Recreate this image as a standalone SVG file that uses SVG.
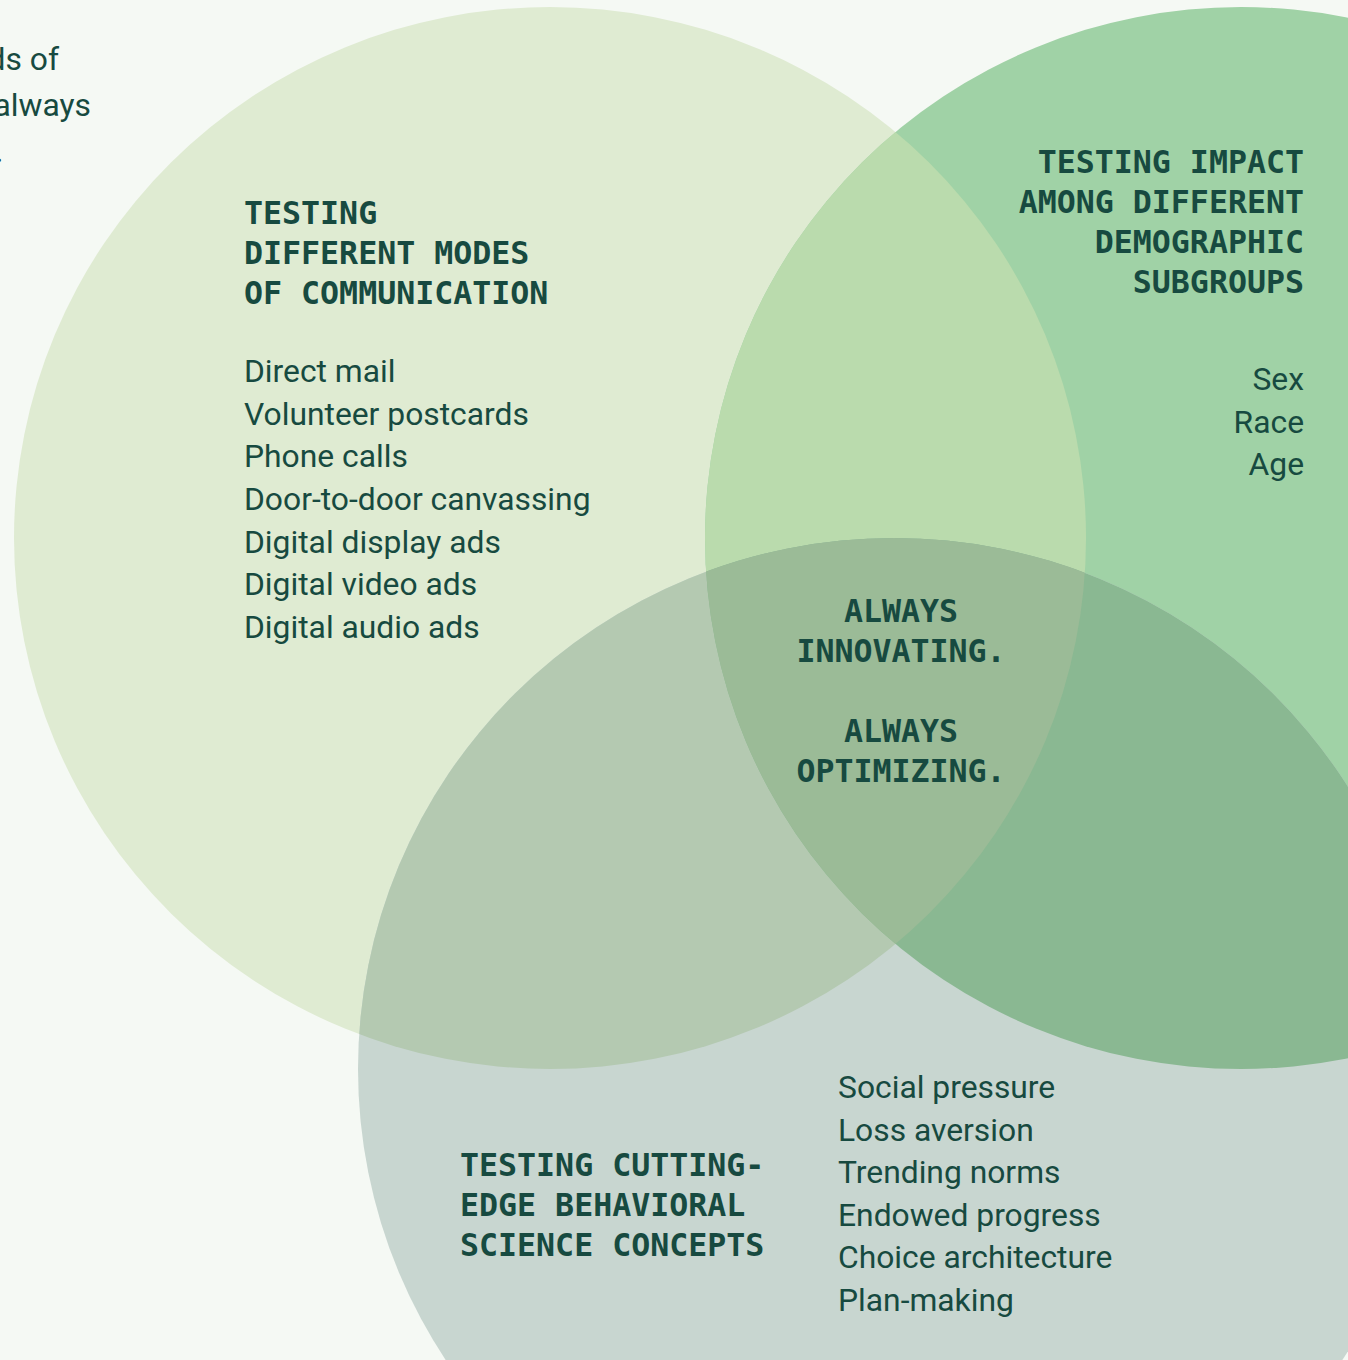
<svg xmlns="http://www.w3.org/2000/svg" width="1348" height="1360" viewBox="0 0 1348 1360">
<style>
.h{font-family:"DejaVu Sans Mono","Liberation Mono",monospace;font-weight:bold;font-size:31.6px;fill:#174a40}
.b{font-family:Roboto,"Liberation Sans",sans-serif;font-size:31.8px;fill:#174a40}
</style>
<defs>
<clipPath id="k1"><ellipse cx="550" cy="538" rx="536" ry="531"/></clipPath>
<clipPath id="k2"><ellipse cx="1241" cy="538" rx="536" ry="531"/></clipPath>
</defs>
<rect width="1348" height="1360" fill="#f5f9f4"/>
<g id="intro-text" class="b">
<text x="59" y="70" text-anchor="end">ds of</text>
<text x="91" y="116" text-anchor="end">always</text>
<text x="-5" y="162">.</text>
</g>
<g id="circle-communication"><ellipse cx="550" cy="538" rx="536" ry="531" fill="#dfebd2"/></g>
<g id="circle-demographics"><ellipse cx="1241" cy="538" rx="536" ry="531" fill="#a0d2a6"/></g>
<g id="circle-behavioral"><ellipse cx="894" cy="1069" rx="536" ry="531" fill="#c8d6d0"/></g>
<g id="overlaps">
<ellipse cx="1241" cy="538" rx="536" ry="531" fill="#badbad" clip-path="url(#k1)"/>
<ellipse cx="894" cy="1069" rx="536" ry="531" fill="#b4c9b1" clip-path="url(#k1)"/>
<ellipse cx="894" cy="1069" rx="536" ry="531" fill="#8ab892" clip-path="url(#k2)"/>
<g clip-path="url(#k1)"><ellipse cx="894" cy="1069" rx="536" ry="531" fill="#9bbb97" clip-path="url(#k2)"/></g>
</g>
<g id="label-communication">
<text class="h" x="244" y="224">TESTING</text>
<text class="h" x="244" y="264">DIFFERENT MODES</text>
<text class="h" x="244" y="304">OF COMMUNICATION</text>
<g class="b">
<text x="244" y="382">Direct mail</text>
<text x="244" y="425">Volunteer postcards</text>
<text x="244" y="467">Phone calls</text>
<text x="244" y="510">Door-to-door canvassing</text>
<text x="244" y="553">Digital display ads</text>
<text x="244" y="595">Digital video ads</text>
<text x="244" y="638">Digital audio ads</text>
</g>
</g>
<g id="label-demographics" text-anchor="end">
<text class="h" x="1304" y="173">TESTING IMPACT</text>
<text class="h" x="1304" y="213">AMONG DIFFERENT</text>
<text class="h" x="1304" y="253">DEMOGRAPHIC</text>
<text class="h" x="1304" y="293">SUBGROUPS</text>
<g class="b">
<text x="1304" y="390">Sex</text>
<text x="1304" y="433">Race</text>
<text x="1304" y="475">Age</text>
</g>
</g>
<g id="label-center" text-anchor="middle">
<text class="h" x="901" y="622">ALWAYS</text>
<text class="h" x="901" y="662">INNOVATING.</text>
<text class="h" x="901" y="742">ALWAYS</text>
<text class="h" x="901" y="782">OPTIMIZING.</text>
</g>
<g id="label-behavioral">
<text class="h" x="460" y="1176">TESTING CUTTING-</text>
<text class="h" x="460" y="1216">EDGE BEHAVIORAL</text>
<text class="h" x="460" y="1256">SCIENCE CONCEPTS</text>
<g class="b">
<text x="838" y="1098">Social pressure</text>
<text x="838" y="1141">Loss aversion</text>
<text x="838" y="1183">Trending norms</text>
<text x="838" y="1226">Endowed progress</text>
<text x="838" y="1268">Choice architecture</text>
<text x="838" y="1311">Plan-making</text>
</g>
</g>
</svg>
